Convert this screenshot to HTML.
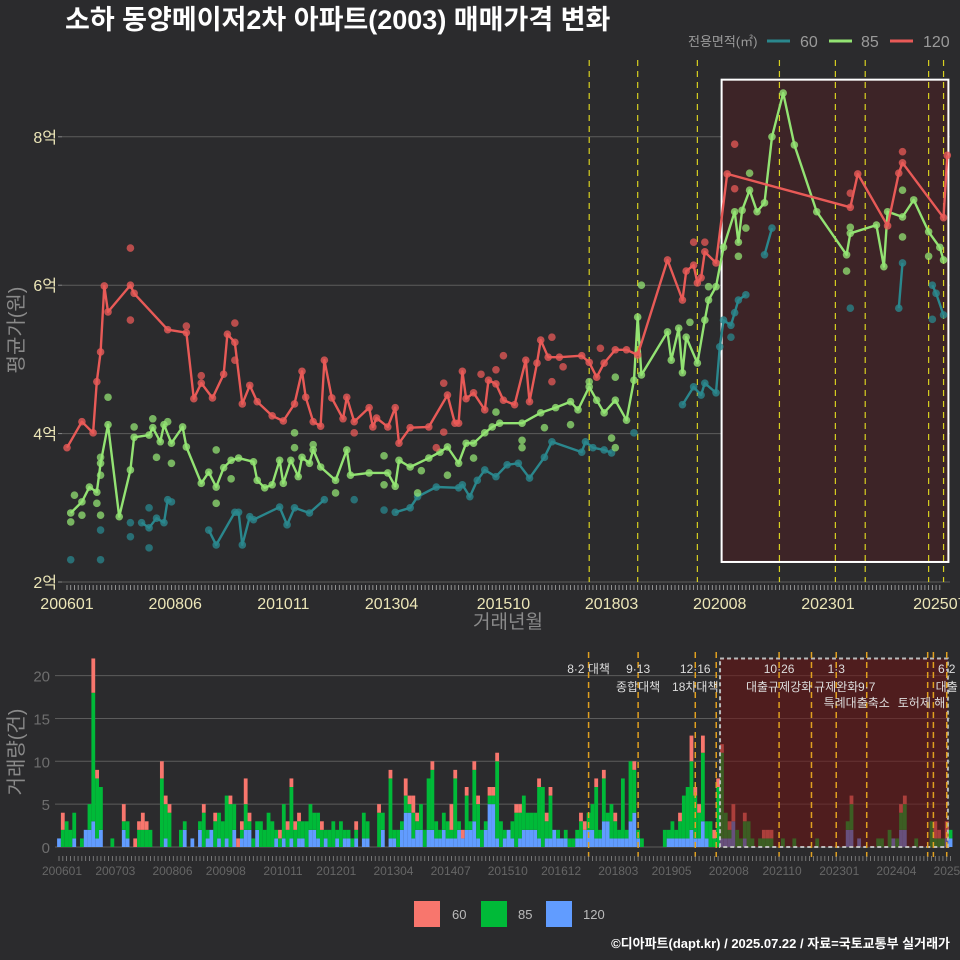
<!DOCTYPE html>
<html><head><meta charset="utf-8">
<style>
html,body{margin:0;padding:0;background:#2b2b2d;}
svg{display:block;font-family:"Liberation Sans","Noto Sans CJK KR",sans-serif;}
</style></head>
<body>
<svg id="chart" width="960" height="960" viewBox="0 0 960 960" xmlns="http://www.w3.org/2000/svg">
<rect x="0" y="0" width="960" height="960" fill="#2b2b2d"/>
<text x="65" y="29" fill="#ffffff" font-size="27" font-weight="bold">소하 동양메이저2차 아파트(2003) 매매가격 변화</text>
<g>
<text x="688" y="46" fill="#9a9a9a" font-size="13">전용면적(㎡)</text>
<line x1="767" y1="41" x2="790" y2="41" stroke="#2a878d" stroke-width="3"/>
<text x="800" y="47" fill="#9a9a9a" font-size="16">60</text>
<line x1="829" y1="41" x2="852" y2="41" stroke="#93e373" stroke-width="3"/>
<text x="861" y="47" fill="#9a9a9a" font-size="16">85</text>
<line x1="890" y1="41" x2="913" y2="41" stroke="#e85a57" stroke-width="3"/>
<text x="923" y="47" fill="#9a9a9a" font-size="16">120</text>
</g>
<g id="topPanel"></g>
<g id="botPanel"></g>
<text x="508" y="628" fill="#8a8a8a" font-size="19" text-anchor="middle">거래년월</text>
<text transform="translate(23,330) rotate(-90)" fill="#8a8a8a" font-size="20" text-anchor="middle">평균가(원)</text>
<text transform="translate(23,752) rotate(-90)" fill="#8a8a8a" font-size="20" text-anchor="middle">거래량(건)</text>
<g>
<rect x="414" y="901" width="26" height="26" fill="#f8766d"/>
<text x="452" y="919" fill="#bbbbbb" font-size="13">60</text>
<rect x="481" y="901" width="26" height="26" fill="#00ba38"/>
<text x="518" y="919" fill="#bbbbbb" font-size="13">85</text>
<rect x="546" y="901" width="26" height="26" fill="#619cff"/>
<text x="583" y="919" fill="#bbbbbb" font-size="13">120</text>
</g>
<text x="950" y="948" fill="#ffffff" font-size="13" font-weight="bold" text-anchor="end">©디아파트(dapt.kr) / 2025.07.22 / 자료=국토교통부 실거래가</text>
</svg>
<script>
// ---- price data (month index from 2006-01, value in 억) ----
const redM=[0,4,7,8,9,10,11,17,18,27,32,34,36,39,42,43,45,47,49,51,55,58,61,63,64,66,68,69,71,74,75,77,81,82,83,86,88,89,92,97,102,104,105,106,107,109,112,113,115,117,120,123,124,126,127,129,132,138,140,142,144,147,150,153,161,165,166,168,169,170,171,174,177,210,212,220,223,224,235,236];
const redV=[3.81,4.16,4.01,4.70,5.10,5.99,5.64,6.00,5.89,5.40,5.36,4.47,4.68,4.48,4.80,5.34,5.23,4.40,4.65,4.43,4.24,4.17,4.40,4.84,4.49,4.16,4.10,4.99,4.48,4.20,4.49,4.16,4.35,4.09,4.21,4.09,4.35,3.87,4.08,4.09,4.52,4.14,4.14,4.84,4.47,4.55,4.32,4.72,4.67,4.45,4.39,4.99,4.43,4.95,5.26,5.03,5.03,5.05,4.96,4.76,4.95,5.13,5.13,5.06,6.34,5.80,6.19,6.27,6.03,6.10,6.45,6.30,7.50,7.05,7.50,6.80,7.51,7.65,6.91,7.75];
const greenM=[1,4,6,8,9,11,14,17,18,22,23,25,26,28,31,32,36,38,40,42,44,46,50,51,53,55,57,58,60,62,63,65,66,68,72,75,76,81,86,88,89,92,97,100,102,105,107,109,112,114,116,122,127,131,135,137,140,142,144,147,150,152,153,154,161,162,164,165,166,169,171,172,174,176,179,180,181,183,185,187,189,192,195,201,209,210,217,219,220,224,227,231,234,235];
const greenV=[2.93,3.08,3.28,3.21,3.60,4.12,2.88,3.51,3.95,3.98,4.08,3.89,4.12,3.87,4.09,3.82,3.33,3.48,3.28,3.54,3.64,3.67,3.62,3.37,3.27,3.31,3.64,3.33,3.64,3.42,3.68,3.60,3.78,3.55,3.37,3.78,3.44,3.47,3.47,3.29,3.64,3.55,3.67,3.75,3.82,3.60,3.87,3.87,4.01,4.09,4.14,4.14,4.28,4.35,4.43,4.32,4.63,4.45,4.28,4.45,4.18,4.72,5.57,4.79,5.37,4.99,5.42,4.82,5.30,4.95,5.53,5.80,5.98,6.51,6.99,6.58,7.01,7.28,6.99,7.11,8.00,8.59,7.89,6.99,6.41,6.70,6.81,6.25,6.99,6.92,7.15,6.72,6.51,6.34];
const tealM=[20,22,24,26,27,28,null,38,40,45,46,47,49,50,57,59,61,65,69,null,88,92,94,99,105,106,108,110,112,115,118,121,124,128,130,138,139,141,144,146,null,165,168,170,171,174,175,176,178,179,180,182,null,187,189,null,223,224,null,232,233,235];
const tealV=[2.80,2.73,2.86,2.80,3.11,3.08,null,2.70,2.50,2.94,2.94,2.50,2.88,2.84,3.01,2.77,3.00,2.93,3.11,null,2.94,3.00,3.15,3.28,3.27,3.31,3.15,3.37,3.51,3.42,3.58,3.60,3.40,3.68,3.89,3.75,3.89,3.81,3.78,3.74,null,4.39,4.63,4.52,4.68,4.55,5.17,5.53,5.46,5.63,5.80,5.87,null,6.41,6.77,null,5.69,6.30,null,6.00,5.89,5.60];
const redExM=[17,17,45,45,32,36,101,101,111,77,99,179,179,168,171,130,130,133,143,224,210,117,115];
const redExV=[6.50,5.53,5.49,4.99,5.45,4.78,4.68,4.02,4.80,4.01,3.81,7.90,7.30,6.58,6.58,4.70,5.30,4.90,5.15,7.80,7.24,5.05,4.86];
const greenExM=[11,1,2,4,8,9,9,9,18,23,24,28,27,40,40,44,61,61,66,72,85,85,95,102,94,109,115,154,147,146,147,122,167,172,180,182,183,209,210,224,224,231,140,135,128,122];
const greenExV=[4.49,2.81,3.17,2.90,3.06,2.90,3.68,3.44,4.09,4.20,3.68,3.60,4.16,3.78,3.06,3.39,4.01,3.81,3.85,3.20,3.31,3.70,3.50,3.44,3.20,3.67,4.29,6.00,4.76,3.94,3.81,3.81,5.50,5.98,6.39,6.77,7.51,6.19,6.78,7.28,6.65,6.39,4.70,4.12,4.08,3.91];
const tealExM=[1,9,9,17,17,22,22,77,85,210,232,178,152];
const tealExV=[2.30,2.30,2.70,2.80,2.61,2.46,3.00,3.11,2.97,5.69,5.54,5.30,4.01];
const yTicks=[2,4,6,8];
const yTickLabels=["2억","4억","6억","8억"];
const xTickMonths=[0,29,58,87,117,146,175,204,234];
const xTickLabels=["200601","200806","201011","201304","201510","201803","202008","202301","202507"];
const policyTop=[140,153,169,191,206,214,231,235];
const highlightM=[175.5,236.3];
const highlightV=[2.27,8.77];
// ---- volume data ----
const barM=[0,1,2,3,4,6,7,8,9,10,11,14,17,18,20,21,22,23,24,27,28,29,32,33,35,37,38,39,40,41,42,43,44,45,46,47,48,49,50,51,52,53,54,55,56,57,58,59,60,61,62,63,64,65,66,67,68,69,70,71,72,73,74,75,76,77,78,80,81,84,85,87,88,89,90,91,92,93,94,95,96,97,98,99,100,101,102,103,104,105,106,107,108,109,110,111,112,113,114,115,116,117,118,119,120,121,122,123,124,125,126,127,128,129,130,131,132,133,134,135,136,137,138,139,140,141,142,143,144,145,146,147,148,149,150,151,152,153,159,160,161,162,163,164,165,166,167,168,169,170,171,172,173,174,175,176,177,178,179,180,181,182,184,185,186,187,190,193,199,207,208,210,215,216,218,219,220,221,222,225,229,230,231,232,233,234];
const n120=[1,0,0,0,1,0,2,2,3,1,2,0,2,1,0,0,0,0,0,0,1,0,0,2,1,2,0,1,2,0,1,0,1,0,2,0,1,2,2,0,2,0,0,0,0,1,0,1,0,1,0,1,1,0,2,2,1,0,1,0,0,1,0,1,1,0,1,1,1,0,2,1,1,0,2,4,4,1,2,2,0,2,2,1,1,2,1,1,1,2,1,2,2,3,1,0,2,5,5,1,0,1,2,1,0,1,2,2,2,2,1,0,1,1,2,1,1,1,0,0,1,1,2,2,2,1,1,3,3,1,1,1,1,1,3,4,1,0,0,1,1,1,1,1,1,2,1,1,3,1,0,0,0,1,1,1,3,0,0,1,0,0,0,0,0,0,0,0,0,2,2,1,0,0,0,1,0,2,2,0,0,0,0,0,1,1];
const n85=[0,2,3,2,3,1,0,3,15,7,5,1,1,2,0,2,2,2,2,8,4,4,2,1,0,1,4,1,0,3,3,3,5,5,3,0,1,3,1,1,1,3,2,4,3,1,1,4,2,6,2,2,2,3,3,2,3,2,1,2,3,1,3,1,1,1,1,3,2,4,2,7,1,2,1,2,1,3,1,3,2,6,7,2,1,2,2,1,7,1,0,4,1,6,4,2,1,1,1,9,3,1,0,2,4,3,4,2,2,2,6,7,2,5,0,1,0,1,1,1,1,2,0,2,3,6,1,5,1,4,2,1,7,1,7,5,1,1,2,1,2,1,2,5,6,8,5,3,8,2,3,1,7,10,3,1,0,2,1,2,3,1,1,1,1,1,1,1,1,1,3,0,1,1,2,0,1,2,3,1,3,1,1,1,0,1];
const n60=[0,2,0,0,0,0,0,0,4,1,0,0,2,0,1,1,2,1,0,2,1,1,0,0,0,0,1,0,0,1,0,0,0,1,0,1,1,3,1,0,0,0,0,0,0,0,1,0,1,1,1,1,0,0,0,0,0,1,0,0,0,0,0,0,0,0,1,0,0,1,0,1,0,0,0,2,1,2,1,0,0,0,1,0,0,0,0,3,1,0,1,1,0,1,1,0,0,1,1,1,0,0,0,0,1,1,0,0,0,0,1,0,1,1,0,0,0,0,0,0,0,1,1,0,0,1,0,1,0,0,1,0,0,0,0,1,0,0,0,0,0,0,1,0,0,3,1,1,2,0,0,1,1,1,0,1,2,0,0,1,0,0,0,1,1,1,0,0,0,0,1,0,0,0,0,0,0,1,1,0,0,2,1,0,2,0];
const volTicks=[0,5,10,15,20];
const volXMonths=[0,14,29,43,58,72,87,102,117,131,146,160,175,189,204,219,234];
const volXLabels=["200601","200703","200806","200908","201011","201201","201304","201407","201510","201612","201803","201905","202008","202110","202301","202404","202507"];
const policyBot=[139,152,167,172.5,189,197.5,204,212,228,229.5,233];
const policyLine1=[["8·2 대책",139],["9·13",152],["12·16",167],["10·26",189],["1·3",204],["6·2",233]];
const policyLine2=[["종합대책",152],["18차대책",167],["대출규제강화",189],["규제완화",204],["9·7",212],["대출",233]];
const policyLine3=[["특례대출축소",212],["토허제 해",229]];
const shadeBotM=[173.5,233.3];
const shadeBotN=22;

const NS="http://www.w3.org/2000/svg";
function mk(parent,tag,attrs){const e=document.createElementNS(NS,tag);for(const k in attrs)e.setAttribute(k,attrs[k]);parent.appendChild(e);return e;}
const xT=m=>67+m*3.73;
const yT=v=>582-(v-2)*74.2;
const xB=m=>59+m*3.81;
const yB=c=>847-c*8.57;

const topG=document.getElementById('topPanel');
yTicks.forEach((t,i)=>{
  const g=mk(topG,'line',{x1:62,x2:950,y1:yT(t),y2:yT(t),stroke:'#5c5c5c','stroke-width':1});
  
  
  const tx=mk(topG,'text',{x:57,y:yT(t)+6,fill:'#ece6b8','font-size':16,'text-anchor':'end'});
  tx.textContent=yTickLabels[i];
  
  
  const tk=mk(topG,'line',{x1:58,x2:62,y1:yT(t),y2:yT(t),stroke:'#888'});
  
  
});
const hr=mk(topG,'rect',{x:xT(highlightM[0]),y:yT(highlightV[1]),width:xT(highlightM[1])-xT(highlightM[0]),height:yT(highlightV[0])-yT(highlightV[1]),fill:'#3d2427',stroke:'#ffffff','stroke-width':2});


policyTop.forEach(m=>{
  const l=mk(topG,'line',{x1:xT(m),x2:xT(m),y1:60,y2:582,stroke:'#d8d020','stroke-width':1.2,'stroke-dasharray':'6,5'});
  
  
});
for(let m=0;m<=234;m++){
  const t=mk(topG,'line',{x1:xT(m),x2:xT(m),y1:585,y2:590,stroke:'#aaaaaa','stroke-width':0.8});
  
  
}
xTickMonths.forEach((m,i)=>{
  const tx=mk(topG,'text',{x:xT(m),y:609,fill:'#ece6b8','font-size':16,'text-anchor':'middle'});
  tx.textContent=xTickLabels[i];
  
  
});
function series(M,V,exM,exV,col,name){
  const g=mk(topG,'g',{});
  
  
  for(let i=0;i<exM.length;i++){
    const c=mk(g,'circle',{cx:xT(exM[i]),cy:yT(exV[i]),r:3.8,fill:col,'fill-opacity':0.75});
    
    
  }
  let d='',pen=false;
  for(let i=0;i<M.length;i++){
    if(M[i]===null){pen=false;continue;}
    d+=(pen?'L':'M')+xT(M[i]).toFixed(1)+','+yT(V[i]).toFixed(1);pen=true;
  }
  const p=mk(g,'path',{d:d,fill:'none',stroke:col,'stroke-width':2.4,'stroke-linejoin':'round'});
  
  
  for(let i=0;i<M.length;i++){
    if(M[i]===null)continue;
    const c=mk(g,'circle',{cx:xT(M[i]),cy:yT(V[i]),r:3.8,fill:col,'fill-opacity':0.8});
    
    
  }
}
series(tealM,tealV,tealExM,tealExV,'#2a878d','60');
series(greenM,greenV,greenExM,greenExV,'#93e373','85');
series(redM,redV,redExM,redExV,'#e85a57','120');

const botG=document.getElementById('botPanel');
volTicks.forEach(t=>{
  const g=mk(botG,'line',{x1:55,x2:950,y1:yB(t),y2:yB(t),stroke:'#5c5c5c','stroke-width':1});
  
  
  const tx=mk(botG,'text',{x:50,y:yB(t)+6,fill:'#6e6e6e','font-size':15,'text-anchor':'end'});
  tx.textContent=String(t);
  
  
});
for(let i=0;i<barM.length;i++){
  const x=xB(barM[i])-1.9;let base=0;
  [[n120[i]||0,'#619cff','120'],[n85[i]||0,'#00ba38','85'],[n60[i]||0,'#f8766d','60']].forEach(s=>{
    if(s[0]>0){
      const r=mk(botG,'rect',{x:x,y:yB(base+s[0]),width:3.8,height:yB(base)-yB(base+s[0]),fill:s[1]});
      
      
      base+=s[0];
    }
  });
}
const sr=mk(botG,'rect',{x:xB(shadeBotM[0]),y:yB(shadeBotN),width:xB(shadeBotM[1])-xB(shadeBotM[0]),height:yB(0)-yB(shadeBotN),fill:'rgba(110,18,18,0.55)',stroke:'#bbbbbb','stroke-width':2,'stroke-dasharray':'4,3'});


policyBot.forEach(m=>{
  const l=mk(botG,'line',{x1:xB(m),x2:xB(m),y1:652,y2:857,stroke:'#e0a020','stroke-width':1.5,'stroke-dasharray':'6,4'});
  
  
});
for(let m=0;m<=234;m++){
  const t=mk(botG,'line',{x1:xB(m),x2:xB(m),y1:856,y2:861,stroke:'#888','stroke-width':0.8});
  
  
}
volXMonths.forEach((m,i)=>{
  const tx=mk(botG,'text',{x:xB(m)+3,y:875,fill:'#666666','font-size':12,'text-anchor':'middle'});
  tx.textContent=volXLabels[i];
  
  
});
policyLine1.forEach(p=>{
  const tx=mk(botG,'text',{x:xB(p[1]),y:673,fill:'#dddddd','font-size':12,'text-anchor':'middle'});
  tx.textContent=p[0];
  
  
});
policyLine2.forEach(p=>{
  const tx=mk(botG,'text',{x:xB(p[1]),y:691,fill:'#dddddd','font-size':12,'text-anchor':'middle'});
  tx.textContent=p[0];
  
  
});
policyLine3.forEach(p=>{
  const tx=mk(botG,'text',{x:xB(p[1])-10,y:707,fill:'#dddddd','font-size':12,'text-anchor':'middle'});
  tx.textContent=p[0];
  
  
});
</script>
</body></html>
